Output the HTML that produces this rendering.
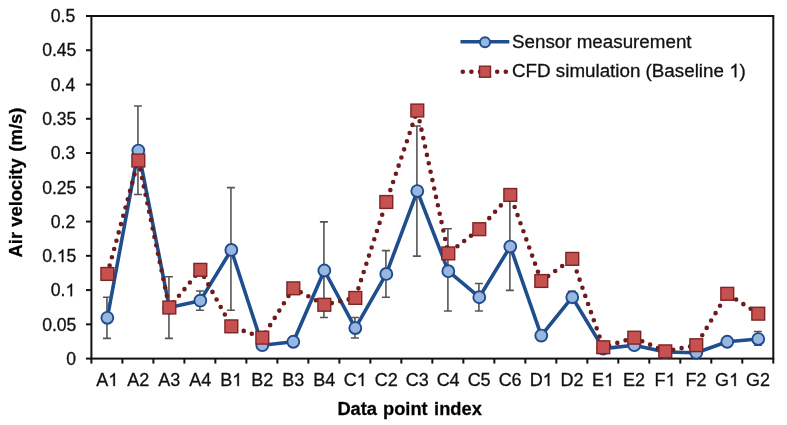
<!DOCTYPE html>
<html><head><meta charset="utf-8"><style>
html,body{margin:0;padding:0;background:#fff;width:787px;height:425px;overflow:hidden}
body{position:relative;font-family:"Liberation Sans", sans-serif}
svg text{font-family:"Liberation Sans", sans-serif;stroke:#111;stroke-width:0.3}
</style></head><body>
<svg width="787" height="425" viewBox="0 0 787 425" style="position:absolute;left:0;top:0;will-change:transform">
<rect x="91.4" y="16.0" width="681.90" height="342.60" fill="none" stroke="#111" stroke-width="2"/>
<line x1="86" y1="358.60" x2="91.4" y2="358.60" stroke="#111" stroke-width="2"/>
<line x1="86" y1="324.34" x2="91.4" y2="324.34" stroke="#111" stroke-width="2"/>
<line x1="86" y1="290.08" x2="91.4" y2="290.08" stroke="#111" stroke-width="2"/>
<line x1="86" y1="255.82" x2="91.4" y2="255.82" stroke="#111" stroke-width="2"/>
<line x1="86" y1="221.56" x2="91.4" y2="221.56" stroke="#111" stroke-width="2"/>
<line x1="86" y1="187.30" x2="91.4" y2="187.30" stroke="#111" stroke-width="2"/>
<line x1="86" y1="153.04" x2="91.4" y2="153.04" stroke="#111" stroke-width="2"/>
<line x1="86" y1="118.78" x2="91.4" y2="118.78" stroke="#111" stroke-width="2"/>
<line x1="86" y1="84.52" x2="91.4" y2="84.52" stroke="#111" stroke-width="2"/>
<line x1="86" y1="50.26" x2="91.4" y2="50.26" stroke="#111" stroke-width="2"/>
<line x1="86" y1="16.00" x2="91.4" y2="16.00" stroke="#111" stroke-width="2"/>
<line x1="91.40" y1="358.6" x2="91.40" y2="363.6" stroke="#111" stroke-width="2"/>
<line x1="122.40" y1="358.6" x2="122.40" y2="363.6" stroke="#111" stroke-width="2"/>
<line x1="153.39" y1="358.6" x2="153.39" y2="363.6" stroke="#111" stroke-width="2"/>
<line x1="184.39" y1="358.6" x2="184.39" y2="363.6" stroke="#111" stroke-width="2"/>
<line x1="215.38" y1="358.6" x2="215.38" y2="363.6" stroke="#111" stroke-width="2"/>
<line x1="246.38" y1="358.6" x2="246.38" y2="363.6" stroke="#111" stroke-width="2"/>
<line x1="277.37" y1="358.6" x2="277.37" y2="363.6" stroke="#111" stroke-width="2"/>
<line x1="308.37" y1="358.6" x2="308.37" y2="363.6" stroke="#111" stroke-width="2"/>
<line x1="339.36" y1="358.6" x2="339.36" y2="363.6" stroke="#111" stroke-width="2"/>
<line x1="370.36" y1="358.6" x2="370.36" y2="363.6" stroke="#111" stroke-width="2"/>
<line x1="401.35" y1="358.6" x2="401.35" y2="363.6" stroke="#111" stroke-width="2"/>
<line x1="432.35" y1="358.6" x2="432.35" y2="363.6" stroke="#111" stroke-width="2"/>
<line x1="463.35" y1="358.6" x2="463.35" y2="363.6" stroke="#111" stroke-width="2"/>
<line x1="494.34" y1="358.6" x2="494.34" y2="363.6" stroke="#111" stroke-width="2"/>
<line x1="525.34" y1="358.6" x2="525.34" y2="363.6" stroke="#111" stroke-width="2"/>
<line x1="556.33" y1="358.6" x2="556.33" y2="363.6" stroke="#111" stroke-width="2"/>
<line x1="587.33" y1="358.6" x2="587.33" y2="363.6" stroke="#111" stroke-width="2"/>
<line x1="618.32" y1="358.6" x2="618.32" y2="363.6" stroke="#111" stroke-width="2"/>
<line x1="649.32" y1="358.6" x2="649.32" y2="363.6" stroke="#111" stroke-width="2"/>
<line x1="680.31" y1="358.6" x2="680.31" y2="363.6" stroke="#111" stroke-width="2"/>
<line x1="711.31" y1="358.6" x2="711.31" y2="363.6" stroke="#111" stroke-width="2"/>
<line x1="742.30" y1="358.6" x2="742.30" y2="363.6" stroke="#111" stroke-width="2"/>
<line x1="773.30" y1="358.6" x2="773.30" y2="363.6" stroke="#111" stroke-width="2"/>
<text x="66.31" y="364.80" font-size="17.6" fill="#111">0</text>
<text x="42.15" y="330.54" font-size="17.6" fill="#111">0.05</text>
<text x="50.83" y="296.28" font-size="17.6" fill="#111">0. </text>
<path d="M763,0L583,0L583,1147Q518,1085 412.5,1023Q307,961 223,930L223,1104Q374,1175 487,1276Q600,1377 647,1472L763,1472Z" transform="translate(65.51,296.28) scale(0.00859,-0.00859)" fill="#111" stroke="#111" stroke-width="34.9"/>
<text x="42.15" y="262.02" font-size="17.6" fill="#111">0. 5</text>
<path d="M763,0L583,0L583,1147Q518,1085 412.5,1023Q307,961 223,930L223,1104Q374,1175 487,1276Q600,1377 647,1472L763,1472Z" transform="translate(56.82,262.02) scale(0.00859,-0.00859)" fill="#111" stroke="#111" stroke-width="34.9"/>
<text x="50.83" y="227.76" font-size="17.6" fill="#111">0.2</text>
<text x="42.15" y="193.50" font-size="17.6" fill="#111">0.25</text>
<text x="50.83" y="159.24" font-size="17.6" fill="#111">0.3</text>
<text x="42.15" y="124.98" font-size="17.6" fill="#111">0.35</text>
<text x="50.83" y="90.72" font-size="17.6" fill="#111">0.4</text>
<text x="42.15" y="56.46" font-size="17.6" fill="#111">0.45</text>
<text x="50.83" y="22.20" font-size="17.6" fill="#111">0.5</text>
<text x="96.19" y="386.00" font-size="18" fill="#111">A </text>
<path d="M763,0L583,0L583,1147Q518,1085 412.5,1023Q307,961 223,930L223,1104Q374,1175 487,1276Q600,1377 647,1472L763,1472Z" transform="translate(108.20,386.00) scale(0.00879,-0.00879)" fill="#111" stroke="#111" stroke-width="34.1"/>
<text x="127.18" y="386.00" font-size="18" fill="#111">A2</text>
<text x="158.18" y="386.00" font-size="18" fill="#111">A3</text>
<text x="189.18" y="386.00" font-size="18" fill="#111">A4</text>
<text x="220.17" y="386.00" font-size="18" fill="#111">B </text>
<path d="M763,0L583,0L583,1147Q518,1085 412.5,1023Q307,961 223,930L223,1104Q374,1175 487,1276Q600,1377 647,1472L763,1472Z" transform="translate(232.18,386.00) scale(0.00879,-0.00879)" fill="#111" stroke="#111" stroke-width="34.1"/>
<text x="251.17" y="386.00" font-size="18" fill="#111">B2</text>
<text x="282.16" y="386.00" font-size="18" fill="#111">B3</text>
<text x="313.16" y="386.00" font-size="18" fill="#111">B4</text>
<text x="343.66" y="386.00" font-size="18" fill="#111">C </text>
<path d="M763,0L583,0L583,1147Q518,1085 412.5,1023Q307,961 223,930L223,1104Q374,1175 487,1276Q600,1377 647,1472L763,1472Z" transform="translate(356.66,386.00) scale(0.00879,-0.00879)" fill="#111" stroke="#111" stroke-width="34.1"/>
<text x="374.65" y="386.00" font-size="18" fill="#111">C2</text>
<text x="405.65" y="386.00" font-size="18" fill="#111">C3</text>
<text x="436.64" y="386.00" font-size="18" fill="#111">C4</text>
<text x="467.64" y="386.00" font-size="18" fill="#111">C5</text>
<text x="498.63" y="386.00" font-size="18" fill="#111">C6</text>
<text x="529.63" y="386.00" font-size="18" fill="#111">D </text>
<path d="M763,0L583,0L583,1147Q518,1085 412.5,1023Q307,961 223,930L223,1104Q374,1175 487,1276Q600,1377 647,1472L763,1472Z" transform="translate(542.63,386.00) scale(0.00879,-0.00879)" fill="#111" stroke="#111" stroke-width="34.1"/>
<text x="560.62" y="386.00" font-size="18" fill="#111">D2</text>
<text x="592.12" y="386.00" font-size="18" fill="#111">E </text>
<path d="M763,0L583,0L583,1147Q518,1085 412.5,1023Q307,961 223,930L223,1104Q374,1175 487,1276Q600,1377 647,1472L763,1472Z" transform="translate(604.12,386.00) scale(0.00879,-0.00879)" fill="#111" stroke="#111" stroke-width="34.1"/>
<text x="623.11" y="386.00" font-size="18" fill="#111">E2</text>
<text x="654.61" y="386.00" font-size="18" fill="#111">F </text>
<path d="M763,0L583,0L583,1147Q518,1085 412.5,1023Q307,961 223,930L223,1104Q374,1175 487,1276Q600,1377 647,1472L763,1472Z" transform="translate(665.61,386.00) scale(0.00879,-0.00879)" fill="#111" stroke="#111" stroke-width="34.1"/>
<text x="685.61" y="386.00" font-size="18" fill="#111">F2</text>
<text x="715.10" y="386.00" font-size="18" fill="#111">G </text>
<path d="M763,0L583,0L583,1147Q518,1085 412.5,1023Q307,961 223,930L223,1104Q374,1175 487,1276Q600,1377 647,1472L763,1472Z" transform="translate(729.10,386.00) scale(0.00879,-0.00879)" fill="#111" stroke="#111" stroke-width="34.1"/>
<text x="746.10" y="386.00" font-size="18" fill="#111">G2</text>
<text x="337.38" y="415.20" font-size="18.3" font-weight="bold" fill="#000">Data</text>
<text x="382.99" y="415.20" font-size="18.3" font-weight="bold" fill="#000">point</text>
<text x="434.12" y="415.20" font-size="18.3" font-weight="bold" fill="#000">index</text>
<g transform="translate(22.4,0) rotate(-90)">
<text x="-257.46" y="0.00" font-size="18.4" font-weight="bold" fill="#000">Air velocity</text>
<text x="-151.72" y="0.00" font-size="18.5" font-weight="bold" fill="#000">(m/s)</text>
</g>
<polyline points="107.35,317.79 138.34,150.60 169.34,307.51 200.33,300.66 231.33,249.95 262.32,345.20 293.32,341.77 324.32,270.51 355.31,328.07 386.31,273.94 417.30,191.03 448.30,271.19 479.29,297.23 510.29,246.53 541.28,335.60 572.28,297.23 603.28,348.62 634.27,345.20 665.27,352.05 696.26,352.73 727.26,341.77 758.25,339.03" fill="none" stroke="#1f4e8f" stroke-width="3.6" stroke-linejoin="round"/>
<path d="M106.95,338.34V297.23M102.95,338.34H110.95M102.95,297.23H110.95" stroke="#555555" stroke-width="1.6" fill="none"/>
<path d="M137.94,194.45V106.06M133.94,194.45H141.94M133.94,106.06H141.94" stroke="#555555" stroke-width="1.6" fill="none"/>
<path d="M168.94,338.34V276.68M164.94,338.34H172.94M164.94,276.68H172.94" stroke="#555555" stroke-width="1.6" fill="none"/>
<path d="M199.93,310.25V291.07M195.93,310.25H203.93M195.93,291.07H203.93" stroke="#555555" stroke-width="1.6" fill="none"/>
<path d="M230.93,310.25V187.60M226.93,310.25H234.93M226.93,187.60H234.93" stroke="#555555" stroke-width="1.6" fill="none"/>
<path d="M323.92,317.45V221.86M319.92,317.45H327.92M319.92,221.86H327.92" stroke="#555555" stroke-width="1.6" fill="none"/>
<path d="M354.91,338.00V317.45M350.91,338.00H358.91M350.91,317.45H358.91" stroke="#555555" stroke-width="1.6" fill="none"/>
<path d="M385.91,297.23V250.64M381.91,297.23H389.91M381.91,250.64H389.91" stroke="#555555" stroke-width="1.6" fill="none"/>
<path d="M416.90,256.12V125.93M412.90,256.12H420.90M412.90,125.93H420.90" stroke="#555555" stroke-width="1.6" fill="none"/>
<path d="M447.90,310.94V228.71M443.90,310.94H451.90M443.90,228.71H451.90" stroke="#555555" stroke-width="1.6" fill="none"/>
<path d="M478.89,310.94V283.53M474.89,310.94H482.89M474.89,283.53H482.89" stroke="#555555" stroke-width="1.6" fill="none"/>
<path d="M509.89,290.38V201.30M505.89,290.38H513.89M505.89,201.30H513.89" stroke="#555555" stroke-width="1.6" fill="none"/>
<path d="M571.88,300.66V291.41M567.88,300.66H575.88M567.88,291.41H575.88" stroke="#555555" stroke-width="1.6" fill="none"/>
<path d="M757.85,345.20V331.49M753.85,345.20H761.85M753.85,331.49H761.85" stroke="#555555" stroke-width="1.6" fill="none"/>
<circle cx="107.35" cy="317.79" r="5.95" fill="#98b7e0" stroke="#1f4b8c" stroke-width="1.9"/>
<circle cx="138.34" cy="150.60" r="5.95" fill="#98b7e0" stroke="#1f4b8c" stroke-width="1.9"/>
<circle cx="169.34" cy="307.51" r="5.95" fill="#98b7e0" stroke="#1f4b8c" stroke-width="1.9"/>
<circle cx="200.33" cy="300.66" r="5.95" fill="#98b7e0" stroke="#1f4b8c" stroke-width="1.9"/>
<circle cx="231.33" cy="249.95" r="5.95" fill="#98b7e0" stroke="#1f4b8c" stroke-width="1.9"/>
<circle cx="262.32" cy="345.20" r="5.95" fill="#98b7e0" stroke="#1f4b8c" stroke-width="1.9"/>
<circle cx="293.32" cy="341.77" r="5.95" fill="#98b7e0" stroke="#1f4b8c" stroke-width="1.9"/>
<circle cx="324.32" cy="270.51" r="5.95" fill="#98b7e0" stroke="#1f4b8c" stroke-width="1.9"/>
<circle cx="355.31" cy="328.07" r="5.95" fill="#98b7e0" stroke="#1f4b8c" stroke-width="1.9"/>
<circle cx="386.31" cy="273.94" r="5.95" fill="#98b7e0" stroke="#1f4b8c" stroke-width="1.9"/>
<circle cx="417.30" cy="191.03" r="5.95" fill="#98b7e0" stroke="#1f4b8c" stroke-width="1.9"/>
<circle cx="448.30" cy="271.19" r="5.95" fill="#98b7e0" stroke="#1f4b8c" stroke-width="1.9"/>
<circle cx="479.29" cy="297.23" r="5.95" fill="#98b7e0" stroke="#1f4b8c" stroke-width="1.9"/>
<circle cx="510.29" cy="246.53" r="5.95" fill="#98b7e0" stroke="#1f4b8c" stroke-width="1.9"/>
<circle cx="541.28" cy="335.60" r="5.95" fill="#98b7e0" stroke="#1f4b8c" stroke-width="1.9"/>
<circle cx="572.28" cy="297.23" r="5.95" fill="#98b7e0" stroke="#1f4b8c" stroke-width="1.9"/>
<circle cx="603.28" cy="348.62" r="5.95" fill="#98b7e0" stroke="#1f4b8c" stroke-width="1.9"/>
<circle cx="634.27" cy="345.20" r="5.95" fill="#98b7e0" stroke="#1f4b8c" stroke-width="1.9"/>
<circle cx="665.27" cy="352.05" r="5.95" fill="#98b7e0" stroke="#1f4b8c" stroke-width="1.9"/>
<circle cx="696.26" cy="352.73" r="5.95" fill="#98b7e0" stroke="#1f4b8c" stroke-width="1.9"/>
<circle cx="727.26" cy="341.77" r="5.95" fill="#98b7e0" stroke="#1f4b8c" stroke-width="1.9"/>
<circle cx="758.25" cy="339.03" r="5.95" fill="#98b7e0" stroke="#1f4b8c" stroke-width="1.9"/>
<g stroke="#701a1a" stroke-width="4.6" stroke-linecap="round" stroke-dasharray="0 8.6" fill="none">
<line x1="107.35" y1="273.94" x2="138.34" y2="160.53" stroke-dashoffset="-0.06"/>
<line x1="138.34" y1="160.53" x2="169.34" y2="307.51" stroke-dashoffset="-0.64"/>
<line x1="169.34" y1="307.51" x2="200.33" y2="269.82" stroke-dashoffset="-6.60"/>
<line x1="200.33" y1="269.82" x2="231.33" y2="326.35" stroke-dashoffset="-8.00"/>
<line x1="231.33" y1="326.35" x2="262.32" y2="337.66" stroke-dashoffset="-4.60"/>
<line x1="262.32" y1="337.66" x2="293.32" y2="288.32" stroke-dashoffset="-6.15"/>
<line x1="293.32" y1="288.32" x2="324.32" y2="304.77" stroke-dashoffset="-8.40"/>
<line x1="324.32" y1="304.77" x2="355.31" y2="297.92" stroke-dashoffset="-7.70"/>
<line x1="355.31" y1="297.92" x2="386.31" y2="201.99" stroke-dashoffset="-1.46"/>
<line x1="386.31" y1="201.99" x2="417.30" y2="110.52" stroke-dashoffset="-3.98"/>
<line x1="417.30" y1="110.52" x2="448.30" y2="253.38" stroke-dashoffset="-2.40"/>
<line x1="448.30" y1="253.38" x2="479.29" y2="229.19" stroke-dashoffset="-2.95"/>
<line x1="479.29" y1="229.19" x2="510.29" y2="194.93" stroke-dashoffset="-6.30"/>
<line x1="510.29" y1="194.93" x2="541.28" y2="280.99" stroke-dashoffset="-4.26"/>
<line x1="541.28" y1="280.99" x2="572.28" y2="258.86" stroke-dashoffset="-8.50"/>
<line x1="572.28" y1="258.86" x2="603.28" y2="347.25" stroke-dashoffset="-4.85"/>
<line x1="603.28" y1="347.25" x2="634.27" y2="337.66" stroke-dashoffset="-6.10"/>
<line x1="634.27" y1="337.66" x2="665.27" y2="351.36" stroke-dashoffset="-0.10"/>
<line x1="665.27" y1="351.36" x2="696.26" y2="345.20" stroke-dashoffset="-8.05"/>
<line x1="696.26" y1="345.20" x2="727.26" y2="293.81" stroke-dashoffset="-3.02"/>
<line x1="727.26" y1="293.81" x2="758.25" y2="313.68" stroke-dashoffset="-1.95"/>
</g>
<rect x="100.95" y="267.54" width="12.8" height="12.8" fill="#c55151" stroke="#7f2424" stroke-width="1.4"/>
<rect x="131.94" y="154.13" width="12.8" height="12.8" fill="#c55151" stroke="#7f2424" stroke-width="1.4"/>
<rect x="162.94" y="301.11" width="12.8" height="12.8" fill="#c55151" stroke="#7f2424" stroke-width="1.4"/>
<rect x="193.93" y="263.42" width="12.8" height="12.8" fill="#c55151" stroke="#7f2424" stroke-width="1.4"/>
<rect x="224.93" y="319.95" width="12.8" height="12.8" fill="#c55151" stroke="#7f2424" stroke-width="1.4"/>
<rect x="255.92" y="331.26" width="12.8" height="12.8" fill="#c55151" stroke="#7f2424" stroke-width="1.4"/>
<rect x="286.92" y="281.92" width="12.8" height="12.8" fill="#c55151" stroke="#7f2424" stroke-width="1.4"/>
<rect x="317.92" y="298.37" width="12.8" height="12.8" fill="#c55151" stroke="#7f2424" stroke-width="1.4"/>
<rect x="348.91" y="291.52" width="12.8" height="12.8" fill="#c55151" stroke="#7f2424" stroke-width="1.4"/>
<rect x="379.91" y="195.59" width="12.8" height="12.8" fill="#c55151" stroke="#7f2424" stroke-width="1.4"/>
<rect x="410.90" y="104.11" width="12.8" height="12.8" fill="#c55151" stroke="#7f2424" stroke-width="1.4"/>
<rect x="441.90" y="246.98" width="12.8" height="12.8" fill="#c55151" stroke="#7f2424" stroke-width="1.4"/>
<rect x="472.89" y="222.79" width="12.8" height="12.8" fill="#c55151" stroke="#7f2424" stroke-width="1.4"/>
<rect x="503.89" y="188.53" width="12.8" height="12.8" fill="#c55151" stroke="#7f2424" stroke-width="1.4"/>
<rect x="534.88" y="274.59" width="12.8" height="12.8" fill="#c55151" stroke="#7f2424" stroke-width="1.4"/>
<rect x="565.88" y="252.46" width="12.8" height="12.8" fill="#c55151" stroke="#7f2424" stroke-width="1.4"/>
<rect x="596.88" y="340.85" width="12.8" height="12.8" fill="#c55151" stroke="#7f2424" stroke-width="1.4"/>
<rect x="627.87" y="331.26" width="12.8" height="12.8" fill="#c55151" stroke="#7f2424" stroke-width="1.4"/>
<rect x="658.87" y="344.96" width="12.8" height="12.8" fill="#c55151" stroke="#7f2424" stroke-width="1.4"/>
<rect x="689.86" y="338.80" width="12.8" height="12.8" fill="#c55151" stroke="#7f2424" stroke-width="1.4"/>
<rect x="720.86" y="287.41" width="12.8" height="12.8" fill="#c55151" stroke="#7f2424" stroke-width="1.4"/>
<rect x="751.85" y="307.28" width="12.8" height="12.8" fill="#c55151" stroke="#7f2424" stroke-width="1.4"/>
<line x1="460.5" y1="41.8" x2="509.3" y2="41.8" stroke="#1f4e8f" stroke-width="3.6"/>
<circle cx="485" cy="42.2" r="5.0" fill="#98b7e0" stroke="#1f4b8c" stroke-width="1.9"/>
<text x="512.00" y="47.70" font-size="18.8" fill="#111">Sensor measurement</text>
<line x1="462.8" y1="71.7" x2="506" y2="71.7" stroke="#701a1a" stroke-width="4.6" stroke-linecap="round" stroke-dasharray="0 8.6"/>
<rect x="479.5" y="66.2" width="11" height="11" fill="#c55151" stroke="#7f2424" stroke-width="1.4"/>
<text x="512.00" y="77.30" font-size="18.8" fill="#111">CFD simulation (Baseline  )</text>
<path d="M763,0L583,0L583,1147Q518,1085 412.5,1023Q307,961 223,930L223,1104Q374,1175 487,1276Q600,1377 647,1472L763,1472Z" transform="translate(729.32,77.30) scale(0.00918,-0.00918)" fill="#111" stroke="#111" stroke-width="32.7"/>
</svg>
</body></html>
